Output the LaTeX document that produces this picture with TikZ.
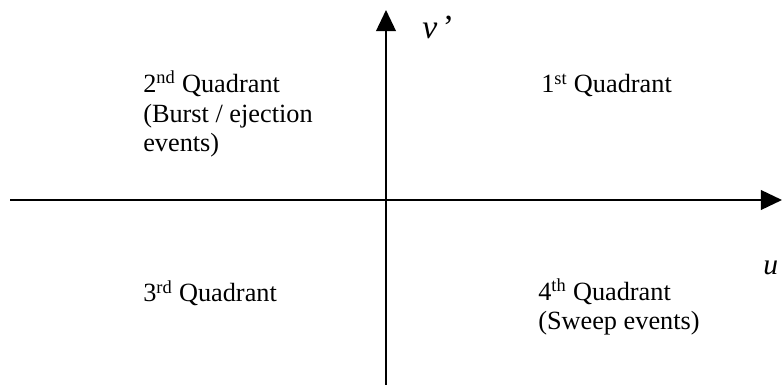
\documentclass[tikz,border=0pt]{standalone}
\usepackage{fontspec}
\setmainfont{Liberation Serif}
\usetikzlibrary{arrows.meta,positioning}

\tikzset{
  axis/.style={line width=1.3pt, -{Triangle[length=15pt,width=14pt]}},
  quad/.style={anchor=base west, inner sep=0pt, align=left,
    font=\fontsize{18.7}{21.3}\selectfont},
  varlbl/.style={anchor=base west, inner sep=0pt,
    font=\fontsize{21}{24}\selectfont\itshape}
}

\begin{document}
\begin{tikzpicture}[x=0.025cm, y=-0.025cm]
    \useasboundingbox (0,0) rectangle (784,386);
    % Axes
    \coordinate (hstart) at (10,200);
    \coordinate (hend) at (782,200);
    \coordinate (vstart) at (386,385);
    \coordinate (vend) at (386,10);
    \draw[axis] (hstart) -- (hend);
    \draw[axis] (vstart) -- (vend);
    % Axis labels
    \node[varlbl, font=\fontsize{24}{27}\selectfont\itshape] (vlbl) at (422,39) {v\,\textup{’}};
    \node[varlbl] (ulbl) at (763,275) {u};
    % Quadrant labels (base = last line)
    \node[quad] (q2) at (143,152) {2\textsuperscript{nd} Quadrant\\(Burst / ejection\\events)};
    \node[quad] (q1) at (541,93) {1\textsuperscript{st} Quadrant};
    \node[quad] (q3) at (143,302) {3\textsuperscript{rd} Quadrant};
    \node[quad] (q4) at (538,330) {4\textsuperscript{th} Quadrant\\(Sweep events)};
\end{tikzpicture}
\end{document}
